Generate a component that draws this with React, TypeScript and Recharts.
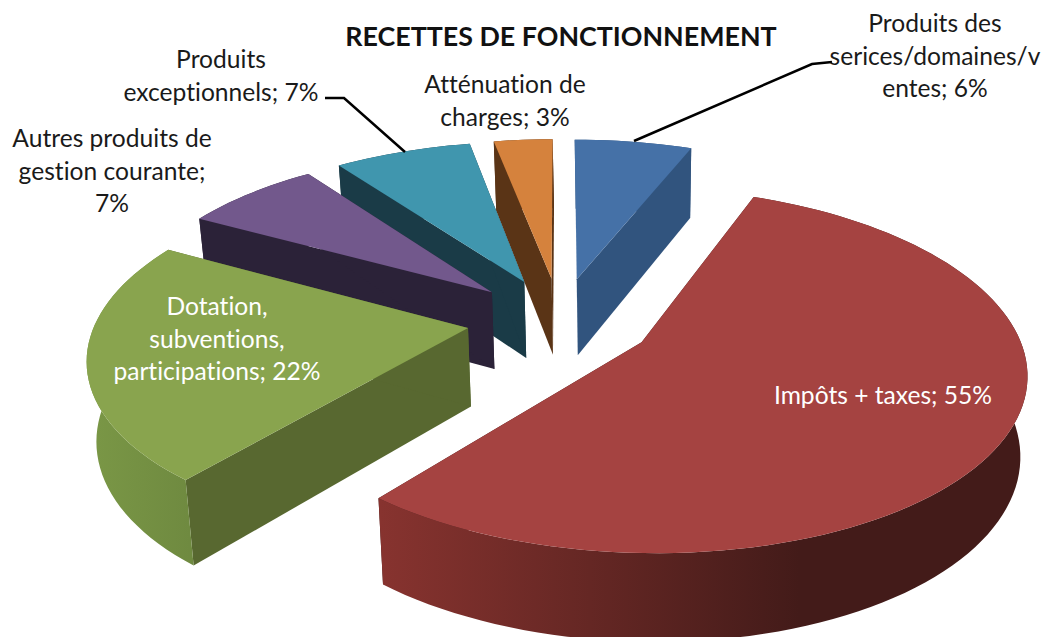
import { Pie, PieChart } from "recharts";

// Drawn counter-clockwise from 12 o'clock so the front slices paint over the back ones.
const categories = [
  "Atténuation de charges",
  "Produits exceptionnels",
  "Autres produits de gestion courante",
  "Dotation, subventions, participations",
  "Impôts + taxes",
  "Produits des serices/domaines/ventes",
];
const shares = [3, 7, 7, 22, 55, 6];

const topColors = ["#D5823D", "#4096AE", "#72588C", "#89A44E", "#A54341", "#4571A7"];
const sideColors = ["#5A3416", "#1A3B47", "#2B2238", "#586830", "#401B19", "#31547E"];
const rimFrom = ["#5A3416", "#1A3B47", "#2B2238", "#7A9746", "#87332F", "#31547E"];
const rimTo = ["#5A3416", "#1A3B47", "#2B2238", "#6F8A40", "#431B19", "#31547E"];

const labelLines = [
  ["Atténuation de", "charges; 3%"],
  ["Produits", "exceptionnels; 7%"],
  ["Autres produits de", "gestion courante;", "7%"],
  ["Dotation,", "subventions,", "participations; 22%"],
  ["Impôts + taxes; 55%"],
  ["Produits des", "serices/domaines/v", "entes; 6%"],
];
const labelAnchors = [
  { x: 505, y: 93, fill: "#1a1a1a" },
  { x: 221, y: 68, fill: "#1a1a1a" },
  { x: 112, y: 147, fill: "#1a1a1a" },
  { x: 217, y: 315, fill: "#ffffff" },
  { x: 883, y: 404, fill: "#ffffff" },
  { x: 935, y: 32, fill: "#1a1a1a" },
];
const leaders: Record<number, string> = {
  1: "325,98 344,98 405,152",
  5: "832,62 812,64 634,141",
};

const FONT = "Lato, sans-serif";
const EXPLODE = 0.25;
const TILT = 0.462;
const PERSPECTIVE = 0.15;
const DEPTH = 78;
const VANISH_X = 630;

const chartData = categories.map((name, i) => ({ name, value: shares[i] }));

function SliceShape(props: any) {
  const { cx, cy, outerRadius, startAngle, endAngle, index } = props;
  // recharts angles -> clockwise degrees from 12 o'clock on the pie plane
  const from = 90 - Math.max(startAngle, endAngle);
  const to = 90 - Math.min(startAngle, endAngle);
  const mid = (((from + to) / 2) * Math.PI) / 180;
  const ox = Math.sin(mid) * EXPLODE;
  const oy = Math.cos(mid) * EXPLODE;

  const project = (u: number, v: number) => {
    const s = 1 / (1 + PERSPECTIVE * v);
    return { x: cx + outerRadius * u * s, y: cy - outerRadius * TILT * v * s, s };
  };
  const top = (u: number, v: number) => {
    const p = project(u, v);
    return [p.x, p.y];
  };
  const bottom = (u: number, v: number) => {
    const p = project(u, v);
    return [VANISH_X + (p.x - VANISH_X) * 0.982, p.y + DEPTH * Math.pow(p.s, 0.7)];
  };

  const rim: [number, number][] = [];
  const steps = Math.max(2, Math.ceil((to - from) / 2));
  for (let i = 0; i <= steps; i++) {
    const t = ((from + ((to - from) * i) / steps) * Math.PI) / 180;
    rim.push([ox + Math.sin(t), oy + Math.cos(t)]);
  }
  const pts = (list: number[][]) => list.map((p) => p.join(",")).join(" ");

  const apexTop = top(ox, oy);
  const apexBottom = bottom(ox, oy);
  const rimTop = rim.map(([u, v]) => top(u, v));
  const rimBottom = rim.map(([u, v]) => bottom(u, v));
  const first = rimTop.length - 1;
  const gradId = `rim-${index}`;

  return (
    <g>
      <defs>
        <linearGradient
          id={gradId}
          gradientUnits="userSpaceOnUse"
          x1={index === 3 ? 90 : 380}
          y1={0}
          x2={index === 3 ? 190 : 800}
          y2={0}
        >
          <stop offset="0%" stopColor={rimFrom[index]} />
          <stop offset="100%" stopColor={rimTo[index]} />
        </linearGradient>
      </defs>
      <polygon
        points={pts([apexTop, rimTop[0], rimBottom[0], apexBottom])}
        fill={sideColors[index]}
      />
      <polygon
        points={pts([apexTop, rimTop[first], rimBottom[first], apexBottom])}
        fill={sideColors[index]}
      />
      <polygon
        points={pts([...rimTop, ...[...rimBottom].reverse()])}
        fill={`url(#${gradId})`}
      />
      <polygon points={pts([apexTop, ...rimTop])} fill={topColors[index]} />
    </g>
  );
}

function SliceLabel({ index }: any) {
  const anchor = labelAnchors[index];
  return (
    <g>
      {leaders[index] && (
        <polyline points={leaders[index]} fill="none" stroke="#000" strokeWidth={2.5} />
      )}
      <text
        x={anchor.x}
        y={anchor.y}
        textAnchor="middle"
        fontFamily={FONT}
        fontSize={24.6}
        fill={anchor.fill}
        style={{ fontVariantLigatures: "none" }}
      >
        {labelLines[index].map((line, i) => (
          <tspan key={line} x={anchor.x} dy={i === 0 ? 0 : 32.5}>
            {line}
          </tspan>
        ))}
      </text>
    </g>
  );
}

export default function App() {
  return (
    <div style={{ position: "absolute", left: 0, top: 0, width: 1047, height: 637, background: "#fff" }}>
      <PieChart width={1047} height={637} margin={{ top: 0, right: 0, bottom: 0, left: 0 }}>
        <text
          x={561}
          y={46}
          textAnchor="middle"
          fontFamily={FONT}
          fontSize={26.8}
          fontWeight={700}
          fill="#111"
        >
          RECETTES DE FONCTIONNEMENT
        </text>
        <Pie
          data={chartData}
          dataKey="value"
          nameKey="name"
          cx={560}
          cy={320}
          innerRadius={0}
          outerRadius={372}
          startAngle={90}
          endAngle={450}
          stroke="none"
          shape={SliceShape}
          label={SliceLabel}
          labelLine={false}
          isAnimationActive={false}
        />
      </PieChart>
    </div>
  );
}
